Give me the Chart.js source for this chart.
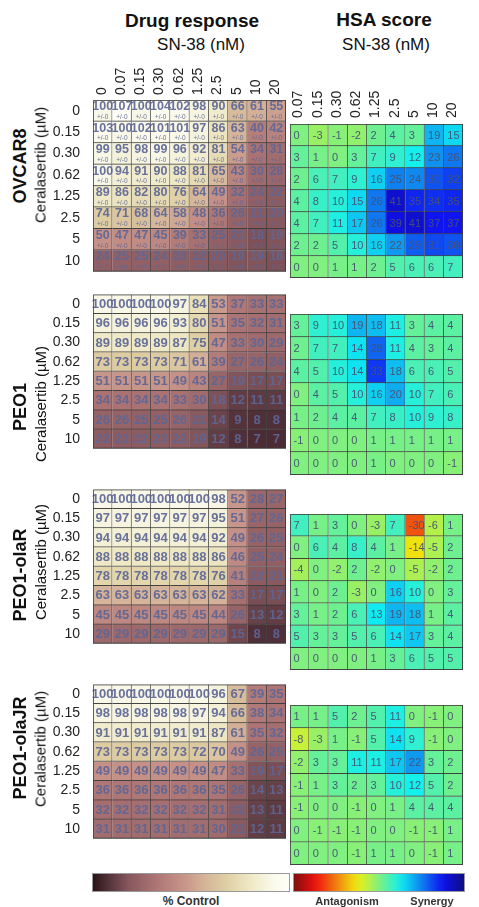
<!DOCTYPE html>
<html><head><meta charset="utf-8">
<script src="https://cdn.jsdelivr.net/npm/chart.js@4.4.1/dist/chart.umd.min.js"></script>
<style>
html,body{margin:0;padding:0;background:#fff;}
body{width:479px;height:907px;position:relative;overflow:hidden;font-family:"Liberation Sans",Arial,Helvetica,sans-serif;color:#111;}
.t{position:absolute;white-space:nowrap;transform:translate(-50%,-50%);line-height:1;}
.r{position:absolute;white-space:nowrap;transform:translate(-50%,-50%) rotate(-90deg);line-height:1;}
canvas{position:absolute;}
.bar{position:absolute;box-sizing:border-box;border:1px solid #9a9a9a;}
</style></head>
<body>
<script>
// ---------- DATA ----------
const drugCols = ['0','0.07','0.15','0.30','0.62','1.25','2.5','5','10','20'];
const hsaCols  = ['0.07','0.15','0.30','0.62','1.25','2.5','5','10','20'];
const drugRows = ['0','0.15','0.30','0.62','1.25','2.5','5','10'];
const hsaRows  = ['0.15','0.30','0.62','1.25','2.5','5','10'];

const ovcar8Drug = [
  [100,107,100,104,102,98,90,66,61,55],
  [103,100,102,101,101,97,86,63,40,42],
  [99,95,98,99,96,92,81,54,34,31],
  [100,94,91,90,88,81,65,43,30,28],
  [89,86,82,80,76,64,49,32,24,22],
  [74,71,68,64,58,48,36,26,21,20],
  [50,47,47,45,39,33,25,21,18,19],
  [24,25,25,24,23,22,20,19,19,18]
];
const ovcar8Hsa = [
  [0,-3,-1,-2,2,4,3,19,15],
  [3,1,0,3,7,9,12,23,26],
  [2,6,7,9,16,25,24,30,32],
  [4,8,10,15,26,41,35,34,35],
  [4,7,11,17,26,39,41,37,37],
  [2,2,5,10,16,22,29,31,30],
  [0,0,1,1,2,5,6,6,7]
];
const peo1Drug = [
  [100,100,100,100,97,84,53,37,33,33],
  [96,96,96,96,93,80,51,35,32,31],
  [89,89,89,89,87,75,47,33,30,29],
  [73,73,73,73,71,61,39,27,26,24],
  [51,51,51,51,49,43,27,19,17,17],
  [34,34,34,34,33,30,18,12,11,11],
  [26,26,25,25,26,21,14,9,8,8],
  [22,22,22,22,22,19,12,8,7,7]
];
const peo1Hsa = [
  [3,9,10,19,18,11,3,4,4],
  [2,7,7,14,28,11,4,3,4],
  [4,5,10,14,33,18,6,6,5],
  [0,4,5,10,16,20,10,7,6],
  [1,2,4,4,7,8,10,9,8],
  [-1,0,0,0,1,1,1,1,1],
  [0,0,0,0,1,0,0,0,-1]
];
const olaRDrug = [
  [100,100,100,100,100,100,98,52,28,27],
  [97,97,97,97,97,97,95,51,27,26],
  [94,94,94,94,94,94,92,49,26,25],
  [88,88,88,88,88,88,86,46,25,24],
  [78,78,78,78,78,78,76,41,22,21],
  [63,63,63,63,63,63,62,33,17,17],
  [45,45,45,45,45,45,44,26,13,12],
  [29,29,29,29,29,29,29,15,8,8]
];
const olaRHsa = [
  [7,1,3,0,-3,7,-30,-6,1],
  [0,6,4,8,4,1,-14,-5,2],
  [-4,0,-2,2,-2,0,-5,-2,2],
  [1,0,2,-3,0,16,10,0,3],
  [3,1,2,6,13,19,18,1,4],
  [5,3,3,5,6,14,17,3,4],
  [0,0,0,0,1,3,6,5,5]
];
const olaJRDrug = [
  [100,100,100,100,100,100,96,67,39,35],
  [98,98,98,98,98,97,94,66,38,34],
  [91,91,91,91,91,91,87,61,35,32],
  [73,73,73,73,73,72,70,49,26,25],
  [49,49,49,49,49,49,47,33,19,17],
  [36,36,36,36,36,36,35,26,14,13],
  [32,32,32,32,32,32,31,22,13,11],
  [31,31,31,31,31,31,30,21,12,11]
];
const olaJRHsa = [
  [1,1,5,2,5,11,0,-1,0],
  [-8,-3,1,-1,5,14,9,-1,0],
  [-2,3,3,11,11,17,22,3,2],
  [-1,1,3,2,3,10,12,5,2],
  [-1,0,0,-1,0,1,4,4,4],
  [0,-1,-1,-1,0,0,-1,-1,1],
  [0,0,0,-1,1,1,0,-1,1]
];
const cellLines = ['OVCAR8','PEO1','PEO1-olaR','PEO1-olaJR'];

// ---------- STYLE / LAYOUT ----------
const FONT = '"Liberation Sans", Arial, Helvetica, sans-serif';
Chart.defaults.font.family = FONT;
Chart.defaults.animation = false;

const drugStops = [
  [0,[40,18,20]],[8,[80,48,56]],[20,[135,88,94]],[35,[172,116,116]],
  [50,[198,146,136]],[62,[212,178,152]],[74,[222,205,162]],[88,[238,232,196]],
  [100,[249,248,232]],[110,[255,255,250]]
];
function drugColor(v){
  v = Math.max(0, Math.min(110, v));
  for (let i=1;i<drugStops.length;i++){
    const [v1,c1]=drugStops[i-1],[v2,c2]=drugStops[i];
    if (v<=v2){ const f=(v-v1)/(v2-v1);
      return 'rgb('+c1.map((a,k)=>Math.round(a+(c2[k]-a)*f)).join(',')+')'; }
  }
  return 'rgb(255,255,250)';
}
function hsaColor(v){
  const x = Math.max(0, Math.min(1, (50 - v)/100));
  const cl = t => Math.max(0, Math.min(1, t));
  const r = cl(1.5-Math.abs(4*x-3)), g = cl(1.5-Math.abs(4*x-2)), b = cl(1.5-Math.abs(4*x-1));
  return 'rgb('+[r,g,b].map(c=>Math.round((c*0.88+0.06)*255)).join(',')+')';
}

const cellText = {
  id:'cellText',
  afterDatasetsDraw(chart){
    const o = chart.options.plugins.cellText;
    const ctx = chart.ctx;
    ctx.save();
    chart.data.datasets.forEach((ds, r) => {
      const meta = chart.getDatasetMeta(r);
      meta.data.forEach((el, c) => {
        const p = el.getProps(['x','y','base','width'], true);
        const cy = (p.y + p.base)/2;
        const v = o.values[r][c];
        ctx.fillStyle = o.color;
        ctx.textBaseline = 'middle';
        if (o.kind === 'hsa') {
          ctx.font = '11px ' + FONT;
          ctx.textAlign = 'left';
          ctx.fillText(String(v), p.x - p.width/2 + 3.5, cy + 0.5);
        } else if (o.sd) {
          ctx.font = 'bold 12.5px ' + FONT;
          ctx.textAlign = 'center';
          ctx.fillText(String(v), p.x, cy - 4);
          ctx.font = '6.5px ' + FONT;
          ctx.fillText('+/-0', p.x, cy + 6.5);
        } else {
          ctx.font = 'bold 13px ' + FONT;
          ctx.textAlign = 'center';
          ctx.fillText(String(v), p.x, cy + 0.5);
        }
      });
    });
    const a = chart.chartArea;
    ctx.strokeStyle = o.frame;
    ctx.lineWidth = 1;
    ctx.strokeRect(a.left+0.5, a.top+0.5, a.right-a.left-1, a.bottom-a.top-1);
    ctx.restore();
  }
};

// x tick labels (rotated, above the grid), placed with the x scale
const topLabels = {
  id:'topLabels',
  afterDraw(chart){
    const o = chart.options.plugins.topLabels;
    if (!o || !o.show) return;
    const xs = chart.scales.x, ctx = chart.ctx;
    ctx.save();
    ctx.font = '14px ' + FONT;
    ctx.fillStyle = '#222';
    ctx.textAlign = 'left';
    ctx.textBaseline = 'middle';
    chart.data.labels.forEach((lab, i) => {
      const x = xs.getPixelForValue(i) - 1;
      ctx.save();
      ctx.translate(x, chart.chartArea.top - o.gap);
      ctx.rotate(-Math.PI/2);
      ctx.fillText(lab, 0, 0);
      ctx.restore();
    });
    ctx.restore();
  }
};

function heatmap(cfg){
  const {cols, rows, values, colorFn, box, showX, showY, kind, sd} = cfg;
  const axW = showY ? 46 : 0;
  const padL = showY ? 0 : 14;
  const axH = showX ? 48 : 0;
  const gw = box[2]-box[0], gh = box[3]-box[1];
  const cv = document.createElement('canvas');
  cv.width = axW + padL + gw; cv.height = axH + gh;
  cv.style.width = cv.width+'px'; cv.style.height = cv.height+'px';
  cv.style.left = (box[0]-axW-padL)+'px'; cv.style.top = (box[1]-axH)+'px';
  document.body.appendChild(cv);
  const datasets = rows.map((rl, r) => ({
    label: rl,
    data: cols.map(() => [r - 0.5, r + 0.5]),
    backgroundColor: values[r].map(colorFn),
    borderColor: 'rgba(35,35,35,0.85)',
    borderWidth: {top:0, left:0, right:1, bottom:1},
    borderSkipped: false,
    barPercentage: 1, categoryPercentage: 1, grouped: false
  }));
  const chart = new Chart(cv, {
    type: 'bar',
    data: { labels: cols, datasets },
    options: {
      responsive: false, devicePixelRatio: 1, animation: false,
      layout: { padding: {top: axH, left: padL, right: 0, bottom: 0} },
      plugins: { legend:{display:false}, tooltip:{enabled:false},
        topLabels: { show: !!showX, gap: kind==='hsa' ? 6 : 5 },
        cellText: { values, kind, sd, color: kind==='hsa' ? 'rgba(70,82,115,0.95)' : 'rgba(92,102,150,0.92)', frame: 'rgba(60,60,60,0.8)' } },
      scales: {
        x: { type:'category', display: false, offset: true },
        y: { type:'linear', min:-0.5, max:rows.length-0.5, reverse:true, display: !!showY,
             grid:{display:false}, border:{display:false},
             afterBuildTicks(s){ s.ticks = rows.map((_,i)=>({value:i})); },
             ticks:{ color:'#222', padding:5, font:{size:14}, callback:(v)=>rows[v] },
             afterFit(s){ s.width = axW; } }
      }
    },
    plugins: [cellText, topLabels]
  });
  const a = chart.chartArea;
  cv.style.left = (box[0]-a.left)+'px';
  cv.style.top = (box[1]-a.top)+'px';
  return chart;
}

function text(cls, str, x, y, css){
  const d = document.createElement('div');
  d.className = cls; d.textContent = str;
  d.style.left = x+'px'; d.style.top = y+'px';
  Object.assign(d.style, css||{});
  document.body.appendChild(d);
}

// titles
text('t','Drug response',192,21,{font:'bold 19px '+FONT});
text('t','SN-38 (nM)',201,45,{font:'17px '+FONT});
text('t','HSA score',384,20,{font:'bold 19px '+FONT});
text('t','SN-38 (nM)',386,45,{font:'17px '+FONT});

const drugSets = [ovcar8Drug, peo1Drug, olaRDrug, olaJRDrug];
const hsaSets  = [ovcar8Hsa, peo1Hsa, olaRHsa, olaJRHsa];
const drugBoxes = [[93,100,286,285],[93,294,286,475],[93,489,286,670],[93,684,286,865]];
const hsaBoxes  = [[290,124,463,278],[290,314,463,475],[290,514,463,670],[290,705,463,865]];
const labelY = [[166,165],[407,404],[575,562],[748,749]];

cellLines.forEach((name, i) => {
  heatmap({cols:drugCols, rows:drugRows, values:drugSets[i], colorFn:drugColor,
           box:drugBoxes[i], showX: i===0, showY:true, kind:'drug', sd: i===0});
  heatmap({cols:hsaCols, rows:hsaRows, values:hsaSets[i], colorFn:hsaColor,
           box:hsaBoxes[i], showX: i===0, showY:false, kind:'hsa'});
  text('r', name, 20, labelY[i][0], {font:'bold 18px '+FONT});
  text('r', 'Ceralasertib (\u00b5M)', 40, labelY[i][1], {font:'15px '+FONT});
});

// colour bars
function bar(x,y,w,h,stops){
  const d = document.createElement('div');
  d.className='bar';
  Object.assign(d.style,{left:x+'px',top:y+'px',width:w+'px',height:h+'px',background:'linear-gradient(to right,'+stops.join(',')+')'});
  document.body.appendChild(d);
}
const dStops=[], hStops=[];
for (let k=0;k<=22;k++){ dStops.push(drugColor(k*5)+' '+(k/22*100).toFixed(1)+'%'); }
for (let k=0;k<=20;k++){ const v=-50+k*5; hStops.push(hsaColor(v)+' '+(k/20*100).toFixed(1)+'%'); }
bar(92,873,198,19,dStops);
bar(293,873,172,19,hStops);
text('t','% Control',191,901,{font:'bold 12px '+FONT,color:'#333'});
text('t','Antagonism',347,901,{font:'bold 11px '+FONT,color:'#333'});
text('t','Synergy',432,901,{font:'bold 11px '+FONT,color:'#333'});
</script>
</body></html>
